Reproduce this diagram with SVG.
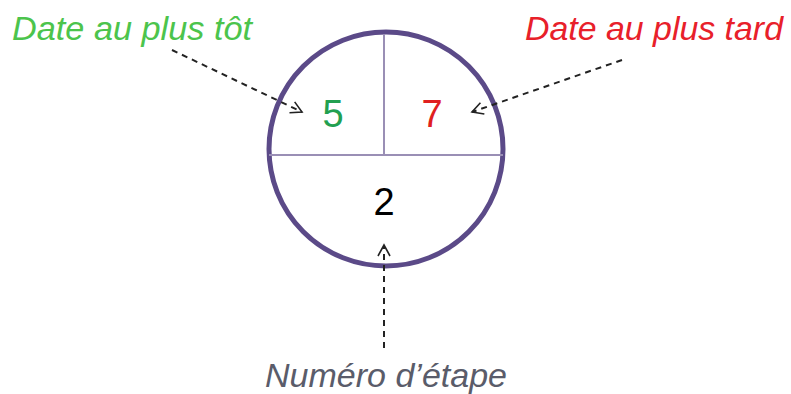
<svg xmlns="http://www.w3.org/2000/svg" width="791" height="394" viewBox="0 0 791 394">
<defs>
<marker id="arr" markerWidth="14" markerHeight="14" refX="12" refY="7" orient="auto" markerUnits="userSpaceOnUse">
<path d="M1,1 L12,7 L1,13" fill="none" stroke="#222" stroke-width="1.6"/>
</marker>
<style>
.lbl{font-family:"Liberation Sans",Arial,sans-serif;font-style:italic;font-size:33px}
.num{font-family:"Liberation Sans",Arial,sans-serif;font-size:38px;text-anchor:middle}
.conn{fill:none;stroke:#222;stroke-width:2;stroke-dasharray:6,5}
</style>
</defs>
<rect width="791" height="394" fill="#fff"/>
<g id="node-etape">
<circle cx="386" cy="149" r="117" fill="#fff" stroke="#5b4a88" stroke-width="5"/>
<line x1="269" y1="155" x2="503" y2="155" stroke="#9a8fb5" stroke-width="2"/>
<line x1="384" y1="34" x2="384" y2="155" stroke="#9a8fb5" stroke-width="2"/>
<text class="num" x="333" y="127" fill="#22a050">5</text>
<text class="num" x="432" y="127" fill="#e02020">7</text>
<text class="num" x="384" y="215" fill="#000">2</text>
</g>
<g id="label-tot"><text class="lbl" x="12" y="40" fill="#4cc44c" textLength="240" lengthAdjust="spacingAndGlyphs">Date au plus tôt</text></g>
<g id="label-tard"><text class="lbl" x="525" y="40" fill="#e8202a" textLength="258" lengthAdjust="spacingAndGlyphs">Date au plus tard</text></g>
<g id="label-numero"><text class="lbl" x="265" y="387" fill="#5a5c6a" textLength="242" lengthAdjust="spacingAndGlyphs">Numéro d’étape</text></g>
<g id="connectors">
<line class="conn" x1="172" y1="50" x2="302" y2="112" marker-end="url(#arr)"/>
<line class="conn" x1="622" y1="60" x2="472" y2="112" marker-end="url(#arr)"/>
<line class="conn" x1="384" y1="348" x2="384" y2="245" marker-end="url(#arr)"/>
</g>
</svg>
